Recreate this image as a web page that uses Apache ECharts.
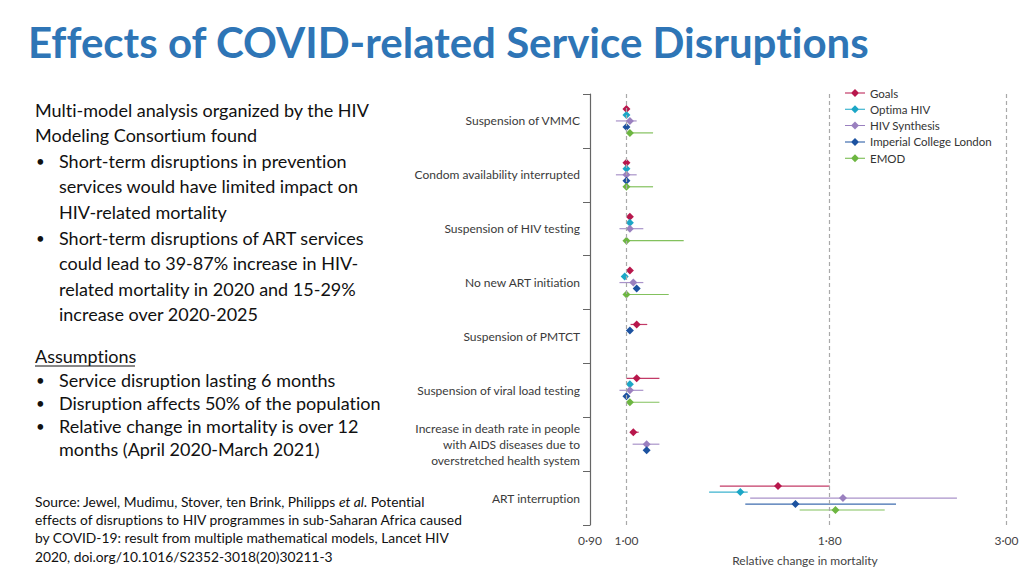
<!DOCTYPE html>
<html><head><meta charset="utf-8">
<script src="https://cdn.jsdelivr.net/npm/echarts@6/dist/echarts.min.js"></script>
<style>html,body{margin:0;padding:0;background:#fff}#c{width:1024px;height:576px}
#c text{font-variant-ligatures:none !important;font-feature-settings:"liga" 0,"dlig" 0 !important}</style>
</head><body><div id="c"></div>
<script>
// ---------- data ----------
const categories = [
  'Suspension of VMMC',
  'Condom availability interrupted',
  'Suspension of HIV testing',
  'No new ART initiation',
  'Suspension of PMTCT',
  'Suspension of viral load testing',
  'Increase in death rate in people\nwith AIDS diseases due to\noverstretched health system',
  'ART interruption'
];
const models = ['Goals', 'Optima HIV', 'HIV Synthesis', 'Imperial College London', 'EMOD'];

const goalsMid = [1.00, 1.00, 1.01, 1.01, 1.03, 1.03, 1.02, 1.55];
const goalsLo  = [null, null, null, null, 1.012, 1.00, 1.012, 1.31];
const goalsHi  = [null, null, null, null, 1.062, 1.10, 1.036, 1.80];

const optimaMid = [1.00, 1.00, 1.01, 0.995, null, 1.01, null, 1.39];
const optimaLo  = [null, null, null, null, null, null, null, 1.27];
const optimaHi  = [null, null, null, null, null, null, null, 1.42];

const synthesisMid = [1.01, 1.00, 1.01, 1.02, null, 1.01, 1.06, 1.87];
const synthesisLo  = [0.97, 0.97, 0.98, 0.98, null, 0.98, 1.018, 1.43];
const synthesisHi  = [1.03, 1.03, 1.05, 1.05, null, 1.05, 1.10, 2.60];

const imperialMid = [1.00, 1.00, null, 1.03, 1.01, 1.00, 1.06, 1.63];
const imperialLo  = [null, null, null, null, null, null, null, 1.41];
const imperialHi  = [null, null, null, null, null, null, null, 2.18];

const emodMid = [1.01, 1.00, 1.00, 1.00, null, 1.01, null, 1.83];
const emodLo  = [1.00, 1.00, 1.00, 1.00, null, 1.00, null, 1.65];
const emodHi  = [1.08, 1.08, 1.18, 1.13, null, 1.10, null, 2.11];

const xTicks = [0.9, 1.0, 1.8, 3.0];
const refLines = [1.0, 1.8, 3.0];
const xName = 'Relative change in mortality';

// ---------- styling ----------
const colors = ['#b8174c', '#1ba6c6', '#9a80bf', '#1c52a0', '#6db641'];
const labelFont = 'Lato, "Noto Sans", sans-serif';
const bodyFont = 'Lato, "Open Sans", sans-serif';

const modelData = [
  [goalsMid, goalsLo, goalsHi],
  [optimaMid, optimaLo, optimaHi],
  [synthesisMid, synthesisLo, synthesisHi],
  [imperialMid, imperialLo, imperialHi],
  [emodMid, emodLo, emodHi]
];
// PMTCT shows only two models, stacked in the first two rows
const slotOverride = { 4: { 3: 1 } };

function buildData(mi) {
  const [mid, lo, hi] = modelData[mi];
  const out = [];
  for (let i = 0; i < categories.length; i++) {
    if (mid[i] == null) continue;
    const slot = (slotOverride[i] && slotOverride[i][mi] != null) ? slotOverride[i][mi] : mi;
    out.push([mid[i], i, lo[i] == null ? mid[i] : lo[i], hi[i] == null ? mid[i] : hi[i], slot]);
  }
  return out;
}

function renderItem(params, api) {
  const x = api.value(0), cat = api.value(1), lo = api.value(2), hi = api.value(3), slot = api.value(4);
  const c = api.coord([x, cat]);
  const band = api.size([0, 1], [x, cat])[1];
  const y = c[1] + (slot - 2) * band * 0.111;
  const color = api.visual('color');
  const children = [];
  if (hi > lo) {
    const a = api.coord([lo, cat])[0], b = api.coord([hi, cat])[0];
    children.push({ type: 'line', shape: { x1: a, y1: y, x2: b, y2: y }, style: { stroke: color, lineWidth: 1.2, opacity: 0.85 } });
  }
  const r = 4;
  children.push({ type: 'polygon', shape: { points: [[c[0], y - r], [c[0] + r, y], [c[0], y + r], [c[0] - r, y]] }, style: { fill: color } });
  return { type: 'group', children };
}

const legendIcon = 'path://M0,3.5L20,3.5L20,4.5L0,4.5Z M10,0L14,4L10,8L6,4Z';

const series = models.map((m, i) => ({
  name: m,
  type: 'custom',
  renderItem,
  itemStyle: { color: colors[i] },
  data: buildData(i),
  clip: false,
  z: 3
}));
series.push({
  name: 'ref',
  type: 'line',
  data: [],
  silent: true,
  markLine: {
    silent: true,
    symbol: ['none', 'none'],
    label: { show: false },
    lineStyle: { color: '#a9a9a9', type: [4, 3], width: 1.2 },
    data: refLines.map(v => ({ xAxis: v }))
  },
  z: 1
});

// ---------- left text ----------
const T = (text, x, y, size, extra) => Object.assign({
  type: 'text', x, y,
  style: Object.assign({ text, fill: '#111', font: size + 'px ' + bodyFont, verticalAlign: 'middle' }, extra || {})
});
const bodyLines = [
  [null, 35, 110, 'Multi-model analysis organized by the HIV'],
  [null, 35, 135, 'Modeling Consortium found'],
  ['•', 59, 161, 'Short-term disruptions in prevention'],
  [null, 59, 186, 'services would have limited impact on'],
  [null, 59, 212, 'HIV-related mortality'],
  ['•', 59, 238, 'Short-term disruptions of ART services'],
  [null, 59, 263, 'could lead to 39-87% increase in HIV-'],
  [null, 59, 289, 'related mortality in 2020 and 15-29%'],
  [null, 59, 314, 'increase over 2020-2025'],
  ['•', 59, 380, 'Service disruption lasting 6 months'],
  ['•', 59, 403, 'Disruption affects 50% of the population'],
  ['•', 59, 426, 'Relative change in mortality is over 12'],
  [null, 59, 449, 'months (April 2020-March 2021)']
];
const graphics = [];
graphics.push({ type: 'text', x: 28, y: 42, style: { text: 'Effects of COVID-related Service Disruptions', fill: '#2e75b6', font: 'bold 42px ' + bodyFont, verticalAlign: 'middle' } });
bodyLines.forEach(([b, x, y, t]) => {
  if (b) graphics.push(T(b, 36, y, 15));
  graphics.push(T(t, x, y, 18));
});
graphics.push(T('Assumptions', 35, 356, 18));
graphics.push({ type: 'line', shape: { x1: 35, y1: 366, x2: 135, y2: 366 }, style: { stroke: '#111', lineWidth: 1 } });
const srcSize = 13.8;
graphics.push({
  type: 'text', x: 35, y: 501,
  style: {
    text: '{a|Source: Jewel, Mudimu, Stover, ten Brink, Philipps }{i|et al}{a|. Potential}',
    verticalAlign: 'middle',
    rich: {
      a: { font: srcSize + 'px ' + bodyFont, fill: '#111' },
      i: { font: 'italic ' + srcSize + 'px ' + bodyFont, fill: '#111' }
    }
  }
});
['effects of disruptions to HIV programmes in sub-Saharan Africa caused',
 'by COVID-19: result from multiple mathematical models, Lancet HIV',
 '2020, doi.org/10.1016/S2352-3018(20)30211-3'].forEach((t, i) => {
  graphics.push(T(t, 35, 519 + i * 18.5, srcSize));
});

const chart = echarts.init(document.getElementById('c'), null, { renderer: 'svg' });
chart.setOption({
  backgroundColor: '#fff',
  animation: false,
  grid: { left: 590, right: 4, top: 94, bottom: 51, containLabel: false, outerBoundsMode: 'none' },
  legend: {
    orient: 'vertical', left: 840, top: 81,
    itemWidth: 20, itemHeight: 8, itemGap: 2.3,
    textStyle: { fontSize: 11.5, color: '#333', fontFamily: labelFont, lineHeight: 14 },
    data: models.map(m => ({ name: m, icon: legendIcon }))
  },
  xAxis: {
    type: 'log', logBase: 10, min: 0.9, max: 3.12,
    name: xName, nameLocation: 'middle', nameGap: 29,
    nameTextStyle: { color: '#444', fontSize: 12, fontFamily: labelFont },
    axisLine: { lineStyle: { color: '#555', width: 1.2 } },
    axisTick: { customValues: xTicks, length: 4, lineStyle: { color: '#555' } },
    axisLabel: { customValues: xTicks, color: '#444', fontSize: 12, fontFamily: labelFont, margin: 9,
      formatter: v => Number(v).toFixed(2).replace('.', '·') },
    splitLine: { show: false },
    minorTick: { show: false }
  },
  yAxis: {
    type: 'category', inverse: true, data: categories,
    axisLine: { lineStyle: { color: '#666', width: 1.2 } },
    axisTick: { show: true, length: 7, lineStyle: { color: '#666' } },
    axisLabel: { color: '#3a3a3a', fontSize: 12, fontFamily: labelFont, margin: 10, lineHeight: 16, align: 'right' },
    splitLine: { show: false }
  },
  series,
  graphic: graphics
});
</script></body></html>
